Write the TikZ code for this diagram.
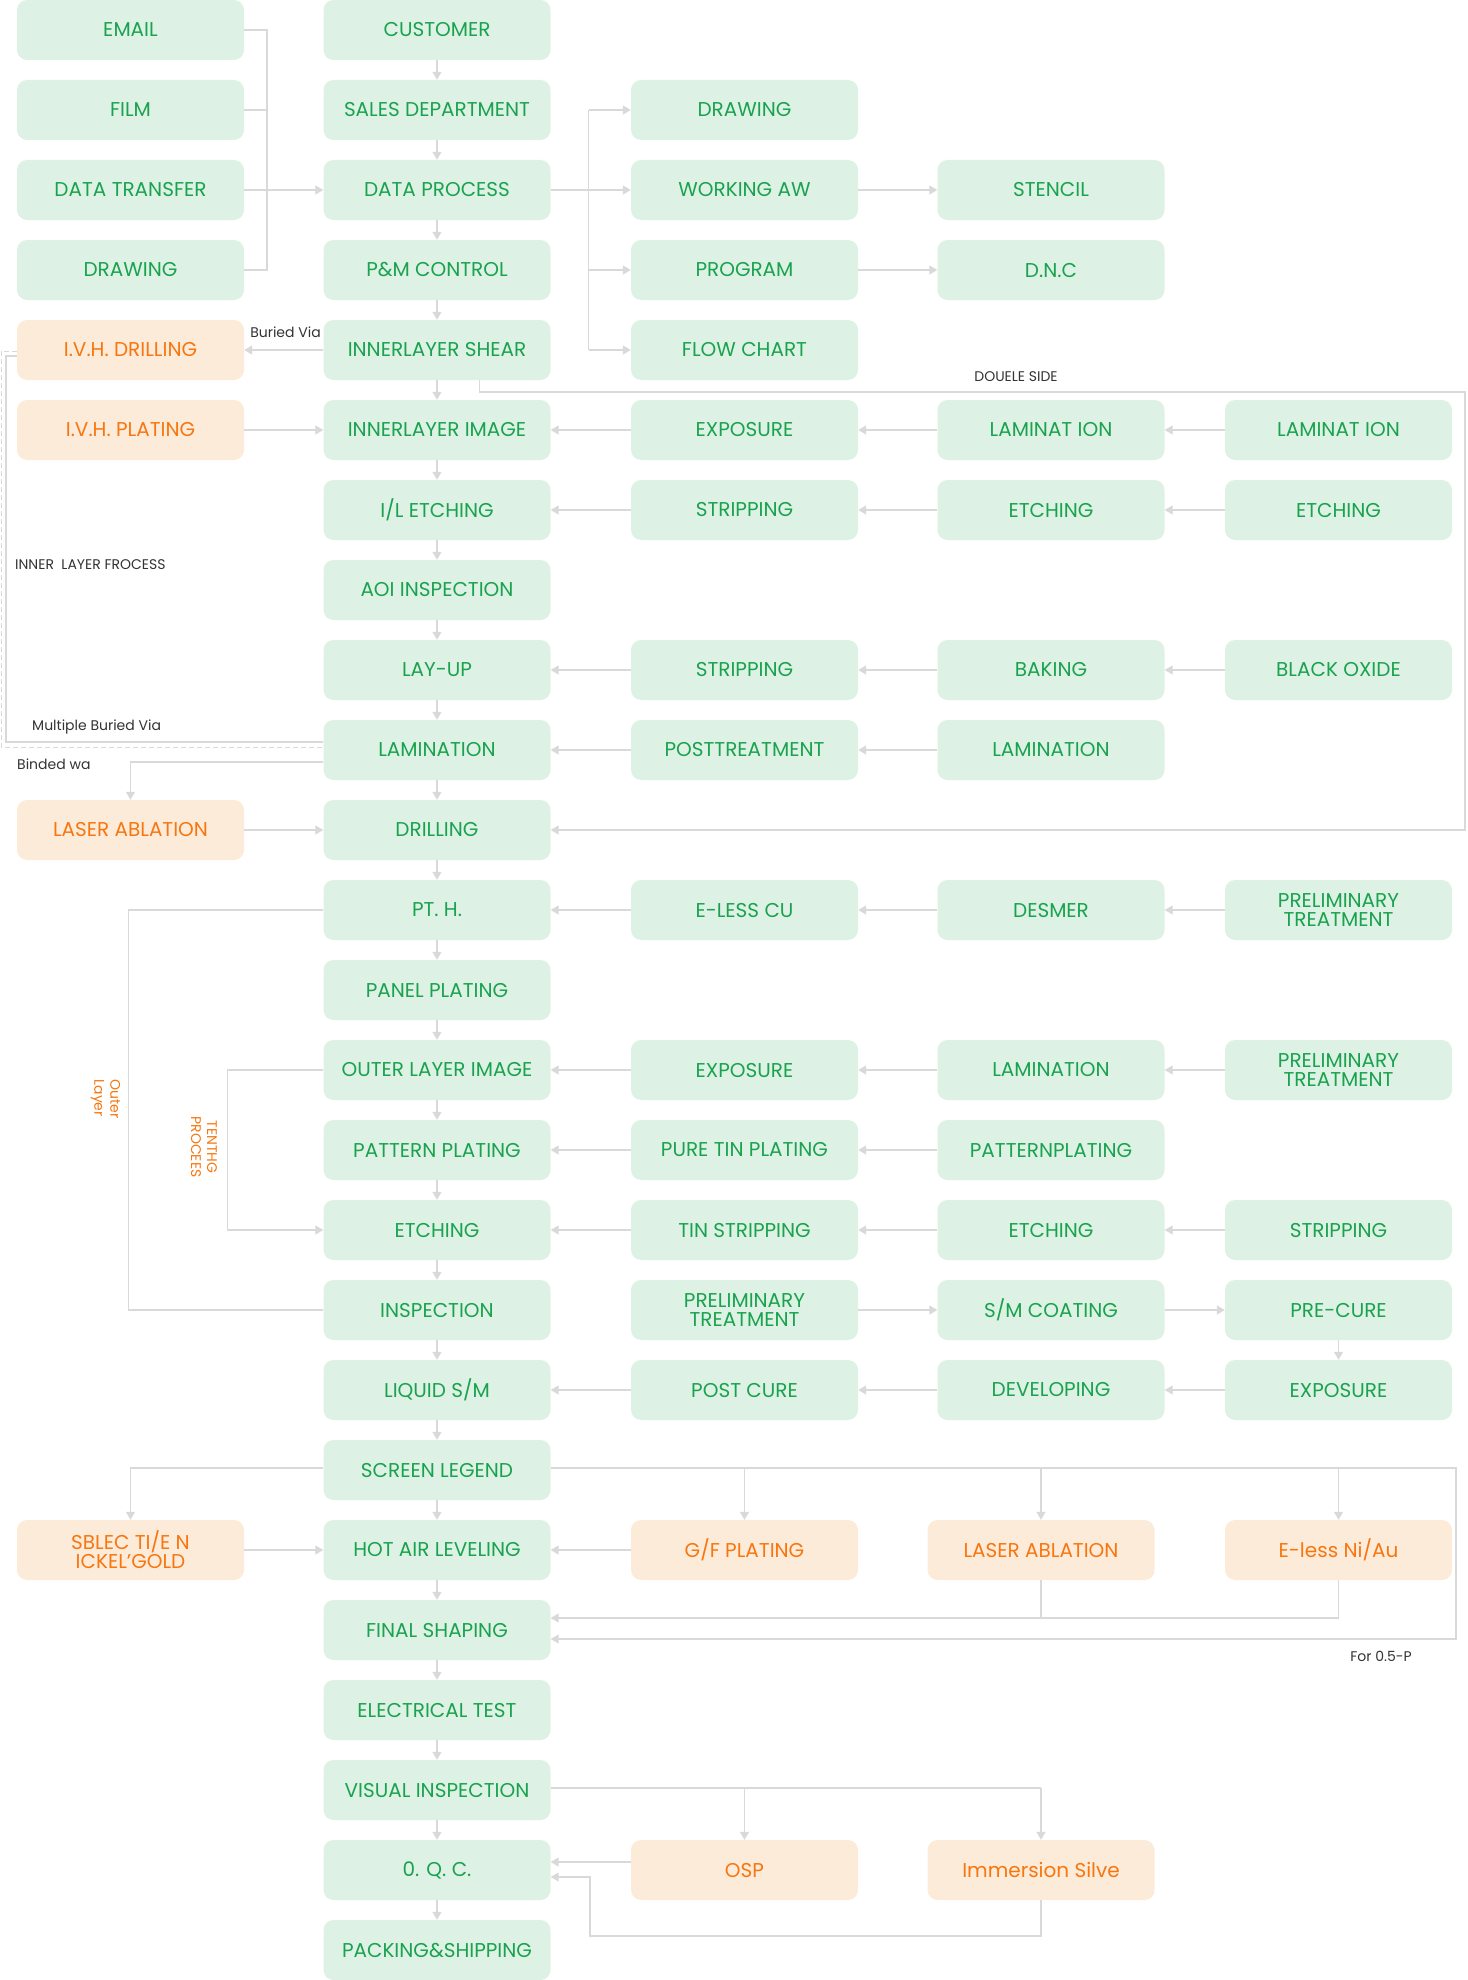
\documentclass[tikz,border=0pt]{standalone}
\usepackage{fontspec}
\setmainfont{Poppins}
\usetikzlibrary{arrows.meta}
\definecolor{gfill}{HTML}{DDF2E4}
\definecolor{gtext}{HTML}{1AA24E}
\definecolor{ofill}{HTML}{FDEBDA}
\definecolor{otext}{HTML}{F7760F}
\definecolor{lcol}{HTML}{D9D9D9}
\definecolor{lbl}{HTML}{333333}
\begin{document}
\begin{tikzpicture}[x=1pt,y=-1pt,
 box/.style={rectangle,rounded corners=10pt,minimum width=227pt,minimum height=60pt,inner sep=0pt,fill=gfill,text=gtext,align=center,font=\fontsize{20}{19}\selectfont},
 obox/.style={box,fill=ofill,text=otext},
 ln/.style={draw=lcol,line width=1.3pt},
 arr/.style={ln,-{Triangle[width=9pt,length=8pt]}},
 lab/.style={text=lbl,font=\fontsize{14}{16}\selectfont,inner sep=0pt},
 olab/.style={text=otext,font=\fontsize{14}{16}\selectfont,inner sep=0pt,rotate=-90}]
\useasboundingbox (0,0) rectangle (1467,1980);
% column A
\node[box] (a0) at (130.5,30) {EMAIL};
\node[box] (a1) at (130.5,110) {FILM};
\node[box] (a2) at (130.5,190) {DATA TRANSFER};
\node[box] (a3) at (130.5,270) {DRAWING};
\node[obox] (ivhd) at (130.5,350) {I.V.H. DRILLING};
\node[obox] (ivhp) at (130.5,430) {I.V.H. PLATING};
\node[obox] (laserA) at (130.5,830) {LASER ABLATION};
\node[obox] (sblec) at (130.5,1550) {SBLEC TI/E N\\ICKEL'GOLD};
% column B
\node[box] (b0) at (437,30) {CUSTOMER};
\node[box] (b1) at (437,110) {SALES DEPARTMENT};
\node[box] (b2) at (437,190) {DATA PROCESS};
\node[box] (b3) at (437,270) {P\&M CONTROL};
\node[box] (b4) at (437,350) {INNERLAYER SHEAR};
\node[box] (b5) at (437,430) {INNERLAYER IMAGE};
\node[box] (b6) at (437,510) {I/L ETCHING};
\node[box] (b7) at (437,590) {AOI INSPECTION};
\node[box] (b8) at (437,670) {LAY-UP};
\node[box] (b9) at (437,750) {LAMINATION};
\node[box] (b10) at (437,830) {DRILLING};
\node[box] (b11) at (437,910) {PT. H.};
\node[box] (b12) at (437,990) {PANEL PLATING};
\node[box] (b13) at (437,1070) {OUTER LAYER IMAGE};
\node[box] (b14) at (437,1150) {PATTERN PLATING};
\node[box] (b15) at (437,1230) {ETCHING};
\node[box] (b16) at (437,1310) {INSPECTION};
\node[box] (b17) at (437,1390) {LIQUID S/M};
\node[box] (b18) at (437,1470) {SCREEN LEGEND};
\node[box] (b19) at (437,1550) {HOT AIR LEVELING};
\node[box] (b20) at (437,1630) {FINAL SHAPING};
\node[box] (b21) at (437,1710) {ELECTRICAL TEST};
\node[box] (b22) at (437,1790) {VISUAL INSPECTION};
\node[box] (b23) at (437,1870) {0. Q. C.};
\node[box] (b24) at (437,1950) {PACKING\&SHIPPING};
% column C
\node[box] (c1) at (744.5,110) {DRAWING};
\node[box] (c2) at (744.5,190) {WORKING AW};
\node[box] (c3) at (744.5,270) {PROGRAM};
\node[box] (c4) at (744.5,350) {FLOW CHART};
\node[box] (c5) at (744.5,430) {EXPOSURE};
\node[box] (c6) at (744.5,510) {STRIPPING};
\node[box] (c8) at (744.5,670) {STRIPPING};
\node[box] (c9) at (744.5,750) {POSTTREATMENT};
\node[box] (c11) at (744.5,910) {E-LESS CU};
\node[box] (c13) at (744.5,1070) {EXPOSURE};
\node[box] (c14) at (744.5,1150) {PURE TIN PLATING};
\node[box] (c15) at (744.5,1230) {TIN STRIPPING};
\node[box] (c16) at (744.5,1310) {PRELIMINARY\\TREATMENT};
\node[box] (c17) at (744.5,1390) {POST CURE};
\node[obox] (c19) at (744.5,1550) {G/F PLATING};
\node[obox] (c23) at (744.5,1870) {OSP};
% column D
\node[box] (d2) at (1051,190) {STENCIL};
\node[box] (d3) at (1051,270) {D.N.C};
\node[box] (d5) at (1051,430) {LAMINAT ION};
\node[box] (d6) at (1051,510) {ETCHING};
\node[box] (d8) at (1051,670) {BAKING};
\node[box] (d9) at (1051,750) {LAMINATION};
\node[box] (d11) at (1051,910) {DESMER};
\node[box] (d13) at (1051,1070) {LAMINATION};
\node[box] (d14) at (1051,1150) {PATTERNPLATING};
\node[box] (d15) at (1051,1230) {ETCHING};
\node[box] (d16) at (1051,1310) {S/M COATING};
\node[box] (d17) at (1051,1390) {DEVELOPING};
\node[obox] (d19) at (1041,1550) {LASER ABLATION};
\node[obox] (d23) at (1041,1870) {Immersion Silve};
% column E
\node[box] (e5) at (1338.5,430) {LAMINAT ION};
\node[box] (e6) at (1338.5,510) {ETCHING};
\node[box] (e8) at (1338.5,670) {BLACK OXIDE};
\node[box] (e11) at (1338.5,910) {PRELIMINARY\\TREATMENT};
\node[box] (e13) at (1338.5,1070) {PRELIMINARY\\TREATMENT};
\node[box] (e15) at (1338.5,1230) {STRIPPING};
\node[box] (e16) at (1338.5,1310) {PRE-CURE};
\node[box] (e17) at (1338.5,1390) {EXPOSURE};
\node[obox] (e19) at (1338.5,1550) {E-less Ni/Au};
% labels
\node[lab] (lbv) at (285.5,332) {Buried Via};
\node[lab] (lds) at (1016,377) {DOUELE SIDE};
\node[lab,anchor=west] (lil) at (15,565) {INNER\ \ LAYER FROCESS};
\node[lab,anchor=west] (lmb) at (32,727) {Multiple Buried Via};
\node[lab,anchor=west] (lbw) at (17,764) {Binded wa};
\node[olab,align=left] (lol) at (105.6,1099) {Outer\\Layer};
\node[olab,align=center] (ltp) at (204,1147) {TENTHG\\PROCEES};
\node[lab] (lfp) at (1381,1656) {For 0.5-P};
% main chain
\foreach \i [evaluate=\i as \j using int(\i+1)] in {0,...,23}
  \draw[arr] (b\i.south) -- (b\j.north);
% input bus
\coordinate (bl0) at (267,30);
\coordinate (bl3) at (267,270);
\draw[ln] (a0.east) -- (bl0) -- (bl3) -- (a3.east);
\draw[ln] (a1.east) -- (a1.east -| bl0);
\draw[arr] (a2.east) -- (b2.west);
% data process bus
\coordinate (br1) at (588.5,110);
\coordinate (br4) at (588.5,350);
\draw[ln] (br1) -- (br4);
\draw[arr] (br1) -- (c1.west);
\draw[arr] (b2.east) -- (c2.west);
\draw[arr] (c3.west -| br1) -- (c3.west);
\draw[arr] (br4) -- (c4.west);
\draw[arr] (c2.east) -- (d2.west);
\draw[arr] (c3.east) -- (d3.west);
% buried via
\draw[arr] (b4.west) -- (ivhd.east);
\draw[arr] (ivhp.east) -- (b5.west);
% double side
\coordinate (ds1) at (479.5,392);
\coordinate (ds2) at (1465,392);
\coordinate (ds3) at (1465,830);
\draw[arr] (b4.south -| ds1) -- (ds1) -- (ds2) -- (ds3) -- (b10.east);
% inner rows
\draw[arr] (c5.west) -- (b5.east);
\draw[arr] (d5.west) -- (c5.east);
\draw[arr] (e5.west) -- (d5.east);
\draw[arr] (c6.west) -- (b6.east);
\draw[arr] (d6.west) -- (c6.east);
\draw[arr] (e6.west) -- (d6.east);
\draw[arr] (c8.west) -- (b8.east);
\draw[arr] (d8.west) -- (c8.east);
\draw[arr] (e8.west) -- (d8.east);
\draw[arr] (c9.west) -- (b9.east);
\draw[arr] (d9.west) -- (c9.east);
% left loops
\coordinate (dl1) at (1,351);
\coordinate (dl2) at (1,747);
\draw[ln,dash pattern=on 5pt off 3pt,line width=1pt] ([yshift=-1pt]ivhd.west) -- (dl1) -- (dl2) -- (dl2 -| b9.west);
\coordinate (sl1) at (6,356);
\coordinate (sl2) at (6,742);
\draw[ln] ([yshift=-6pt]ivhd.west) -- (sl1) -- (sl2) -- (sl2 -| b9.west);
\draw[arr] ([yshift=-12pt]b9.west) -| (laserA.north);
\draw[arr] (laserA.east) -- (b10.west);
% outer layer
\coordinate (ol1) at (128.6,910);
\coordinate (ol2) at (128.6,1310);
\draw[ln] (b11.west) -- (ol1) -- (ol2) -- (b16.west);
\coordinate (tp1) at (227.7,1070);
\coordinate (tp2) at (227.7,1230);
\draw[arr] (b13.west) -- (tp1) -- (tp2) -- (b15.west);
\draw[arr] (c11.west) -- (b11.east);
\draw[arr] (d11.west) -- (c11.east);
\draw[arr] (e11.west) -- (d11.east);
\draw[arr] (c13.west) -- (b13.east);
\draw[arr] (d13.west) -- (c13.east);
\draw[arr] (e13.west) -- (d13.east);
\draw[arr] (c14.west) -- (b14.east);
\draw[arr] (d14.west) -- (c14.east);
\draw[arr] (c15.west) -- (b15.east);
\draw[arr] (d15.west) -- (c15.east);
\draw[arr] (e15.west) -- (d15.east);
\draw[arr] (c16.east) -- (d16.west);
\draw[arr] (d16.east) -- (e16.west);
\draw[arr] (e16.south) -- (e17.north);
\draw[arr] (e17.west) -- (d17.east);
\draw[arr] (d17.west) -- (c17.east);
\draw[arr] (c17.west) -- (b17.east);
% screen legend
\draw[arr] ([yshift=2pt]b18.west) -| (sblec.north);
\draw[arr] (sblec.east) -- (b19.west);
\coordinate (sr1) at (1456,1468);
\coordinate (sr2) at (1456,1639);
\draw[arr] ([yshift=2pt]b18.east) -- (sr1) -- (sr2) -- ([yshift=-9pt]b20.east);
\draw[arr] (c19.north |- sr1) -- (c19.north);
\draw[arr] (d19.north |- sr1) -- (d19.north);
\draw[arr] (e19.north |- sr1) -- (e19.north);
\draw[arr] (c19.west) -- (b19.east);
\coordinate (fs1) at (1041,1618);
\draw[ln] (e19.south) |- (fs1);
\draw[arr] (d19.south) |- ([yshift=12pt]b20.east);
% visual inspection
\coordinate (vi1) at (1041,1788);
\draw[ln] ([yshift=2pt]b22.east) -- (vi1);
\draw[arr] (c23.north |- vi1) -- (c23.north);
\draw[arr] (vi1) -- (d23.north);
\draw[arr] ([yshift=8pt]c23.west) -- ([yshift=8pt]b23.east);
\coordinate (im1) at (1041,1936);
\coordinate (im2) at (590,1936);
\coordinate (im3) at (590,1877);
\draw[arr] (d23.south) -- (im1) -- (im2) -- (im3) -- ([yshift=-7pt]b23.east);
\end{tikzpicture}
\end{document}
